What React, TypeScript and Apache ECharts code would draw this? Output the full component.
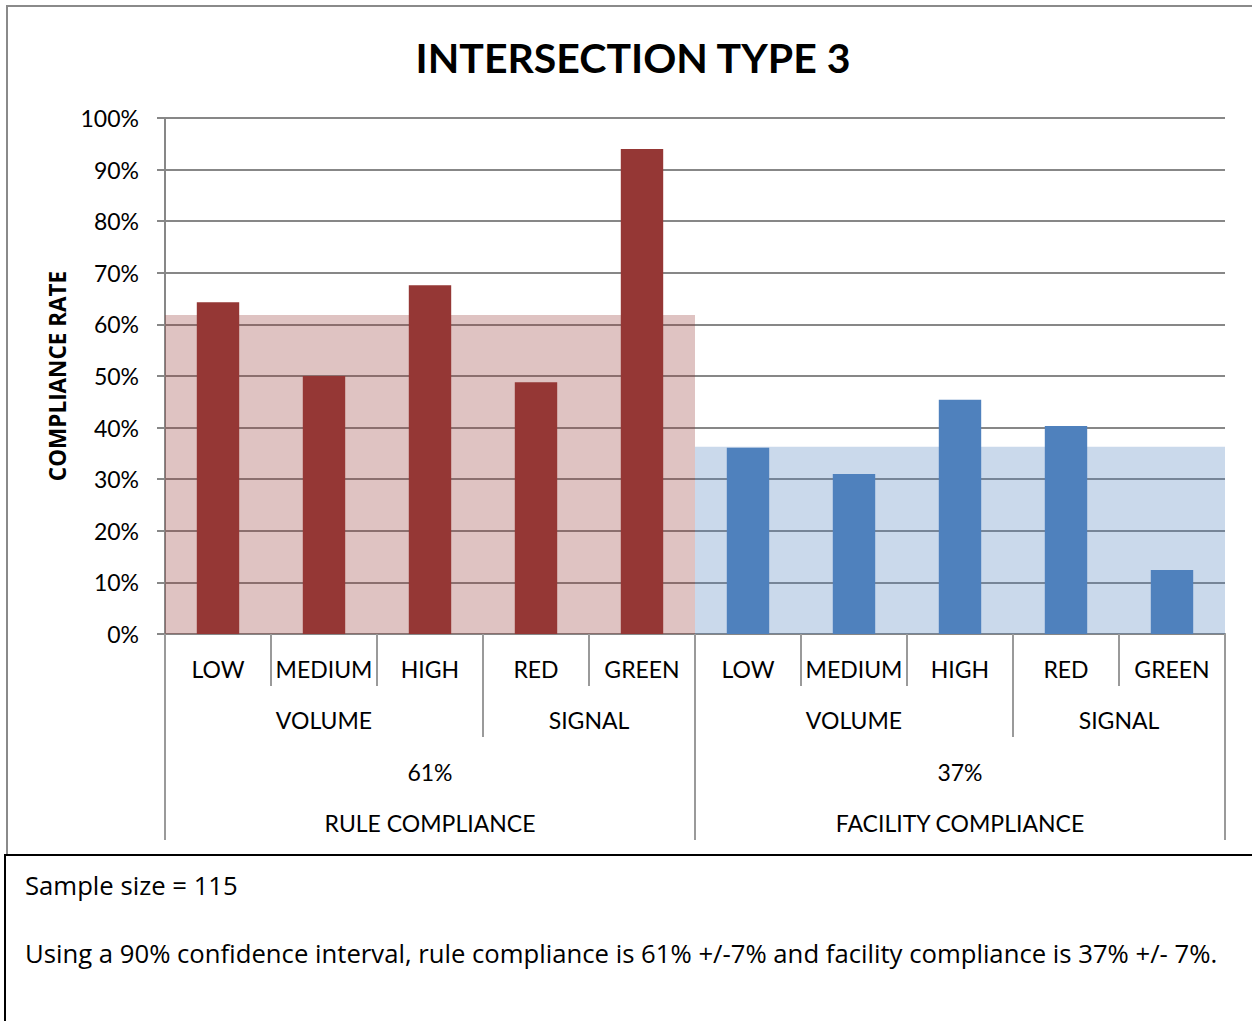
import React, { useEffect, useRef } from "react";
import * as echarts from "echarts";

const categories = ["LOW", "MEDIUM", "HIGH", "RED", "GREEN", "LOW", "MEDIUM", "HIGH", "RED", "GREEN"];
const ruleValues = [64.3, 50.0, 67.6, 48.8, 94.0, "-", "-", "-", "-", "-"];
const facilityValues = ["-", "-", "-", "-", "-", 36.1, 31.0, 45.4, 40.3, 12.4];
const overallCategories = ["RULE COMPLIANCE", "FACILITY COMPLIANCE"];
const overallValues = [61.8, 36.3];
const overallLabels = ["61%", "37%"];
const level2Groups = [
  { label: "VOLUME", span: 3 },
  { label: "SIGNAL", span: 2 },
  { label: "VOLUME", span: 3 },
  { label: "SIGNAL", span: 2 },
];
const level3Spans = [5, 5];
const yTicks = { min: 0, max: 100, interval: 10 };
const noteLines = [
  "Sample size = 115",
  "Using a 90% confidence interval, rule compliance is 61% +/-7% and facility compliance is 37% +/- 7%.",
];

const FONT = "Lato, 'Open Sans', sans-serif";
const FONT2 = "'Open Sans', Lato, sans-serif";
const GRID = "#878787";
const DIV = "#9a9a9a";
const LBL = 23;

export default function App() {
  const ref = useRef<HTMLDivElement>(null);
  useEffect(() => {
    if (!ref.current) return;
    const chart = echarts.init(ref.current, null, { renderer: "svg" });
    const gridTop = 118;
    const gridH = 516;
    const option: any = {
      animation: false,
      backgroundColor: "#fff",
      title: {
        text: "INTERSECTION TYPE 3",
        left: 628,
        top: 32,
        textAlign: "center",
        textStyle: { fontFamily: FONT, fontWeight: "bold", fontSize: 41, color: "#000" },
      },
      grid: { left: 165, top: gridTop, width: 1060, height: gridH },
      xAxis: [
        {
          type: "category",
          data: categories,
          position: "bottom",
          axisLine: { show: true, lineStyle: { color: GRID, width: 2 } },
          axisTick: { show: true, length: 52, lineStyle: { color: DIV, width: 2 } },
          axisLabel: { fontFamily: FONT, fontSize: LBL, color: "#000", margin: 23, interval: 0 },
          splitLine: { show: false },
        },
        {
          type: "category",
          data: overallCategories,
          show: false,
          position: "bottom",
        },
      ],
      yAxis: {
        type: "value",
        min: yTicks.min,
        max: yTicks.max,
        interval: yTicks.interval,
        name: "COMPLIANCE RATE",
        nameLocation: "middle",
        nameRotate: 90,
        nameGap: 96,
        nameTextStyle: { fontFamily: FONT2, fontWeight: "bold", fontSize: 22.5, color: "#000" },
        axisLine: { show: true, lineStyle: { color: GRID, width: 2 } },
        axisTick: { show: true, length: 8, lineStyle: { color: GRID, width: 2 } },
        axisLabel: { formatter: "{value}%", fontFamily: FONT, fontSize: LBL, color: "#000", margin: 26 },
        splitLine: { show: true, lineStyle: { color: GRID, width: 2 } },
      },
      series: [
        {
          type: "bar",
          xAxisIndex: 1,
          barWidth: "100%",
          data: overallValues.map((v, i) => ({
            value: v,
            itemStyle: { color: i === 0 ? "rgba(149,55,53,0.3)" : "rgba(79,129,189,0.3)" },
          })),
          silent: true,
        },
        {
          type: "bar",
          xAxisIndex: 0,
          barWidth: "40%",
          barGap: "-100%",
          data: ruleValues,
          itemStyle: { color: "#953735" },
        },
        {
          type: "bar",
          xAxisIndex: 0,
          barWidth: "40%",
          barGap: "-100%",
          data: facilityValues,
          itemStyle: { color: "#4f81bd" },
        },
      ],
    };
    chart.setOption(option);

    const c0 = chart.convertToPixel({ xAxisIndex: 0 }, 0) as number;
    const c1 = chart.convertToPixel({ xAxisIndex: 0 }, 1) as number;
    const step = c1 - c0;
    const bx = (i: number) => c0 - step / 2 + i * step;
    const y0 = chart.convertToPixel({ yAxisIndex: 0 }, 0) as number;
    const graphics: any[] = [];
    graphics.push({
      type: "rect",
      shape: { x: 7, y: 6, width: 1270, height: 860 },
      style: { fill: "none", stroke: "#8a8a8a", lineWidth: 2 },
      z: 100,
    });
    graphics.push({
      type: "rect",
      shape: { x: 5, y: 855, width: 1270, height: 200 },
      style: { fill: "#fff", stroke: "#000", lineWidth: 2 },
      z: 101,
    });
    graphics.push({
      type: "text",
      x: 25,
      y: 885,
      style: { text: noteLines[0], fontFamily: FONT2, fontSize: 25.7, fill: "#000", verticalAlign: "middle" },
      z: 102,
    });
    graphics.push({
      type: "text",
      x: 25,
      y: 953,
      style: { text: noteLines[1], fontFamily: FONT2, fontSize: 25.7, fill: "#000", verticalAlign: "middle" },
      z: 102,
    });
    let idx = 0;
    level2Groups.forEach((g) => {
      const start = idx;
      const end = idx + g.span;
      graphics.push({
        type: "line",
        shape: { x1: bx(start), y1: y0, x2: bx(start), y2: y0 + 103 },
        style: { stroke: DIV, lineWidth: 2 },
      });
      graphics.push({
        type: "text",
        x: (bx(start) + bx(end)) / 2,
        y: y0 + 86,
        style: { text: g.label, fontFamily: FONT, fontSize: LBL, fill: "#000", align: "center", verticalAlign: "middle" },
      });
      idx = end;
    });
    idx = 0;
    level3Spans.forEach((span, k) => {
      const start = idx;
      const end = idx + span;
      graphics.push({
        type: "line",
        shape: { x1: bx(start), y1: y0, x2: bx(start), y2: y0 + 206 },
        style: { stroke: DIV, lineWidth: 2 },
      });
      if (k === level3Spans.length - 1) {
        graphics.push({
          type: "line",
          shape: { x1: bx(end), y1: y0, x2: bx(end), y2: y0 + 206 },
          style: { stroke: DIV, lineWidth: 2 },
        });
      }
      const cx = (bx(start) + bx(end)) / 2;
      graphics.push({
        type: "text",
        x: cx,
        y: y0 + 138,
        style: { text: overallLabels[k], fontFamily: FONT, fontSize: LBL, fill: "#000", align: "center", verticalAlign: "middle" },
      });
      graphics.push({
        type: "text",
        x: cx,
        y: y0 + 189,
        style: { text: overallCategories[k], fontFamily: FONT, fontSize: LBL, fill: "#000", align: "center", verticalAlign: "middle" },
      });
      idx = end;
    });
    chart.setOption({ graphic: graphics });
    return () => chart.dispose();
  }, []);
  return (
    <div
      ref={ref}
      style={{ position: "fixed", left: 0, top: 0, width: 1252, height: 1021, background: "#fff" }}
    />
  );
}
